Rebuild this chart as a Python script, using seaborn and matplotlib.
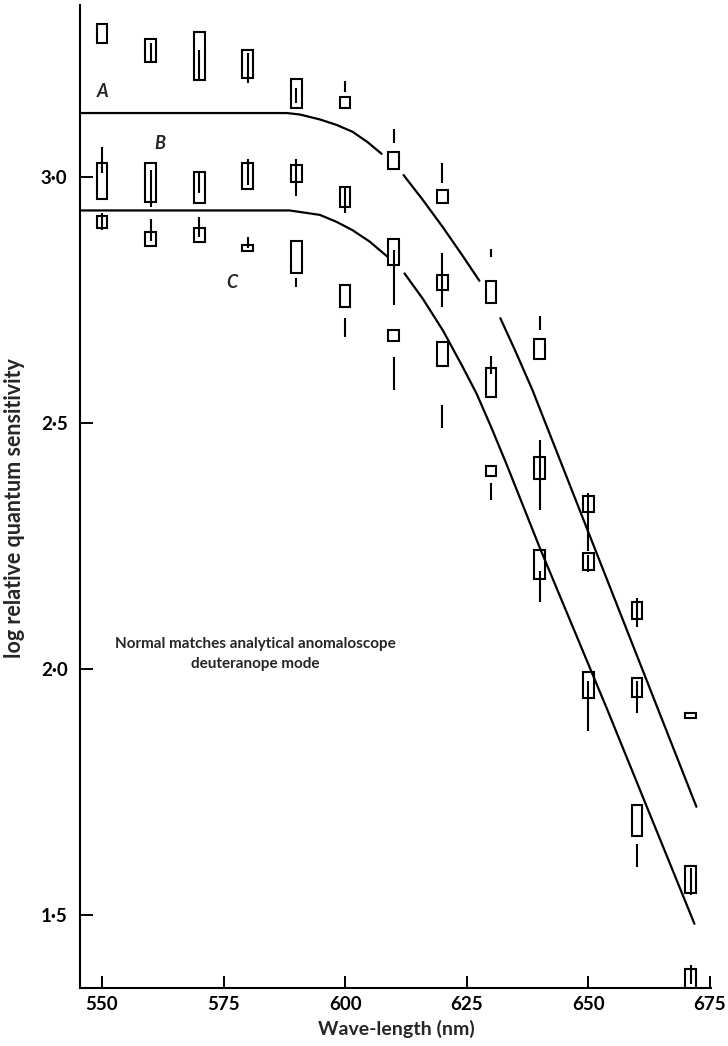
import matplotlib
matplotlib.use("Agg")
import matplotlib.pyplot as plt
import matplotlib.ticker as mticker
import numpy as np
import pandas as pd
import seaborn as sns

# ---------------- data ----------------
wavelength = [550, 560, 570, 580, 590, 600, 610, 620, 630, 640, 650, 660, 671]

# series A (top)
a_box_low  = [3.272, 3.234, 3.197, 3.201, 3.140, 3.140, 3.016, 2.947, 2.744, 2.630, 2.319, 2.102, 1.900]
a_box_high = [3.311, 3.280, 3.295, 3.258, 3.199, 3.163, 3.051, 2.974, 2.789, 2.671, 2.352, 2.136, 1.911]
a_line_low  = [np.nan, 3.234, 3.197, 3.191, 3.150, 3.173, 3.069, 2.988, 2.837, 2.689, 2.240, 2.085, np.nan]
a_line_high = [np.nan, 3.272, 3.258, 3.252, 3.181, 3.195, 3.098, 3.028, 2.854, 2.717, 2.358, 2.144, np.nan]

# series B (middle)
b_box_low  = [2.955, 2.949, 2.947, 2.976, 2.990, 2.939, 2.821, 2.770, 2.553, 2.386, 2.201, 1.943, 1.545]
b_box_high = [3.028, 3.028, 3.010, 3.028, 3.024, 2.980, 2.874, 2.801, 2.612, 2.431, 2.236, 1.982, 1.600]
b_line_low  = [3.008, 2.939, 2.967, 2.984, 2.961, 2.927, 2.740, 2.736, 2.600, 2.323, 2.197, 1.911, 1.541]
b_line_high = [3.061, 3.014, 3.008, 3.037, 3.037, 2.978, 2.852, 2.846, 2.636, 2.465, 2.232, 1.975, 1.596]

# series C (bottom)
c_box_low  = [2.896, 2.860, 2.868, 2.850, 2.805, 2.736, 2.667, 2.616, 2.392, 2.183, 1.941, 1.661, 1.330]
c_box_high = [2.921, 2.888, 2.896, 2.862, 2.870, 2.780, 2.689, 2.665, 2.413, 2.242, 1.994, 1.724, 1.390]
c_line_low  = [2.892, 2.870, 2.878, 2.855, 2.776, 2.675, 2.567, 2.490, 2.343, 2.136, 1.874, 1.598, 1.360]
c_line_high = [2.927, 2.915, 2.919, 2.878, 2.795, 2.713, 2.634, 2.537, 2.378, 2.200, 1.975, 1.644, 1.398]

# fitted curves, segment ids mark printed gaps
upper_nm  = [545.5, 588.0, 590.7, 594.8, 598.2, 601.5, 604.6, 607.5,
             612.0, 616.0, 620.0, 624.0, 627.6,
             631.9, 635.0, 638.5, 649.6, 664.2, 672.2]
upper_val = [3.130, 3.130, 3.127, 3.117, 3.106, 3.092, 3.071, 3.047,
             3.004, 2.953, 2.899, 2.842, 2.789,
             2.713, 2.646, 2.567, 2.288, 1.921, 1.720]
upper_seg = [0, 0, 0, 0, 0, 0, 0, 0,
             1, 1, 1, 1, 1,
             2, 2, 2, 2, 2, 2]

lower_nm  = [545.5, 588.6, 594.8, 598.2, 601.5, 605.0, 608.7,
             612.2, 616.0, 620.1, 624.0, 627.0, 630.0, 633.1, 639.9, 653.9, 671.8]
lower_val = [2.932, 2.932, 2.923, 2.909, 2.892, 2.869, 2.838,
             2.804, 2.752, 2.688, 2.617, 2.560, 2.492, 2.418, 2.249, 1.917, 1.482]
lower_seg = [0, 0, 0, 0, 0, 0, 0,
             1, 1, 1, 1, 1, 1, 1, 1, 1, 1]

series_labels = ["A", "B", "C"]
y_ticks = [1.5, 2.0, 2.5, 3.0]
x_ticks = [550, 575, 600, 625, 650, 675]

# ---------------- drawing ----------------
sns.set_style("ticks")
plt.rcParams["font.family"] = ["Lato", "DejaVu Sans"]
plt.rcParams["font.weight"] = "bold"

fig = plt.figure(figsize=(7.28, 10.46), dpi=100)
ax = fig.add_axes([80 / 728, 1 - 988 / 1046, 631 / 728, 983 / 1046])

series = [
    (a_box_low, a_box_high, a_line_low, a_line_high),
    (b_box_low, b_box_high, b_line_low, b_line_high),
    (c_box_low, c_box_high, c_line_low, c_line_high),
]
wl = np.array(wavelength, dtype=float)
for bl, bh, ll, lh in series:
    bl = np.array(bl); bh = np.array(bh)
    ax.bar(wl, bh - bl, bottom=bl, width=2.2, fill=False,
           edgecolor="black", linewidth=1.5, zorder=3)
    ll = np.array(ll); lh = np.array(lh)
    ok = ~np.isnan(ll)
    ax.vlines(wl[ok], ll[ok], lh[ok], color="black", linewidth=1.5, zorder=3)

upper_df = pd.DataFrame({"nm": upper_nm, "val": upper_val, "seg": upper_seg})
lower_df = pd.DataFrame({"nm": lower_nm, "val": lower_val, "seg": lower_seg})
for df in (upper_df, lower_df):
    sns.lineplot(data=df, x="nm", y="val", units="seg", estimator=None,
                 sort=False, color="black", linewidth=1.6, ax=ax, legend=False)

ax.set_xlim(545.5, 675.2)
ax.set_ylim(1.3516, 3.3496)
ax.set_xticks(x_ticks)
ax.set_yticks(y_ticks)
ax.yaxis.set_major_formatter(mticker.FuncFormatter(lambda v, p: f"{v:.1f}".replace(".", "\u00b7")))
ax.tick_params(direction="in", length=9, width=1.4, labelsize=13.5, colors="black")
ax.tick_params(axis="y", pad=9)
ax.tick_params(axis="x", pad=6)
sns.despine(ax=ax)
for s in ("left", "bottom"):
    ax.spines[s].set_linewidth(1.5)
    ax.spines[s].set_color("black")

ax.set_xlabel("Wave-length (nm)", fontsize=14, fontweight="bold")
ax.set_ylabel("log relative quantum sensitivity", fontsize=15.5, fontweight="bold")
ax.yaxis.set_label_coords((25 - 80) / 631, 0.488)
ax.xaxis.set_label_coords(0.502, (988 - 1020) / 983)

for lab, (px, py) in zip(series_labels, [(550.2, 3.173), (561.9, 3.069), (576.7, 2.785)]):
    ax.text(px, py, lab, fontsize=13, style="italic", fontweight="bold", ha="center", va="center")

ax.text(581.6, 2.03, "Normal matches analytical anomaloscope\ndeuteranope mode",
        fontsize=11, fontweight="bold", ha="center", va="center",
        multialignment="center", linespacing=1.5)

fig.savefig("out.png", dpi=100)
